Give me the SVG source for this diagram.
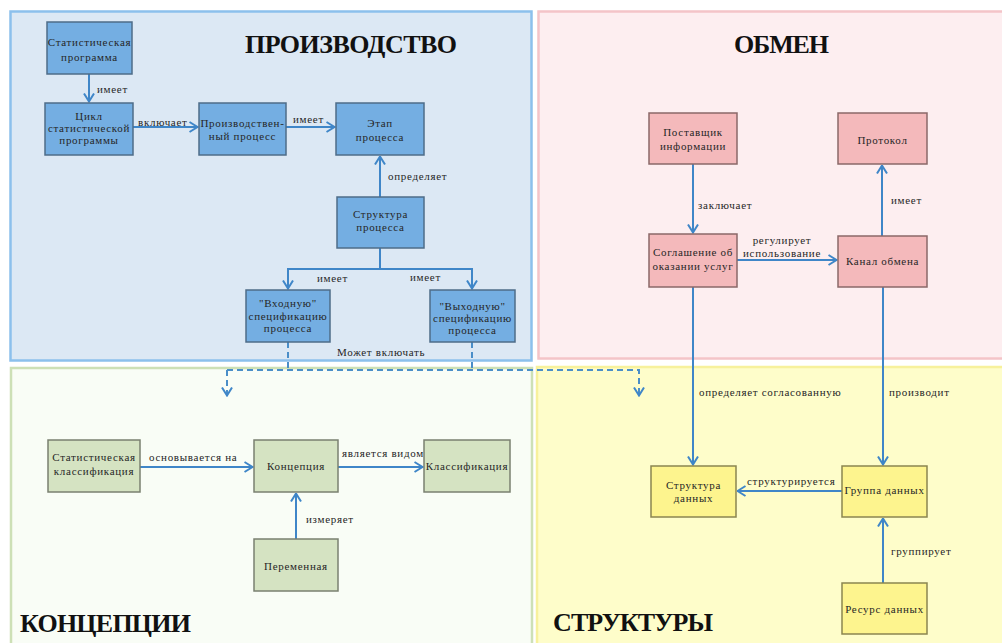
<svg xmlns="http://www.w3.org/2000/svg" width="1002" height="643" viewBox="0 0 1002 643">
<defs>
<style>
.t{font-family:"Liberation Serif","Times New Roman",serif;font-size:11px;letter-spacing:0.7px;fill:#262626;text-anchor:middle}
.l{font-family:"Liberation Serif","Times New Roman",serif;font-size:11px;letter-spacing:0.7px;fill:#262626}
.h{font-family:"Liberation Serif","Times New Roman",serif;font-size:26px;font-weight:bold;fill:#111}
.nb{fill:#74aee2;stroke:#4e6c88;stroke-width:1.5}
.np{fill:#f4b9bb;stroke:#8a6868;stroke-width:1.5}
.ng{fill:#d5e3c2;stroke:#7a8070;stroke-width:1.5}
.ny{fill:#fdf48e;stroke:#8a8550;stroke-width:1.5}
.c{fill:none;stroke:#3f86c8;stroke-width:2}
.d{fill:none;stroke:#4a8ec8;stroke-width:2;stroke-dasharray:6 4}
</style>
<marker id="a" viewBox="0 0 10 12" refX="9.5" refY="6" markerWidth="10" markerHeight="12" markerUnits="userSpaceOnUse" orient="auto">
<path d="M1,1 L9,6 L1,11" fill="none" stroke="#3f86c8" stroke-width="2"/>
</marker>
</defs>
<rect width="1002" height="643" fill="#ffffff"/>
<g id="panels">
<rect x="10.5" y="11.5" width="521" height="349" fill="#dce8f4" stroke="#8cc0ec" stroke-width="2.5"/>
<rect x="538.5" y="11.5" width="475" height="347" fill="#fdeef0" stroke="#f4c4c8" stroke-width="2.5"/>
<rect x="11" y="368" width="521" height="290" fill="#f9fdf6" stroke="#cde0b6" stroke-width="2.5"/>
<rect x="537" y="367" width="480" height="290" fill="#fefdca" stroke="#f7f19c" stroke-width="2.5"/>
<text class="h" x="245" y="53" textLength="212">ПРОИЗВОДСТВО</text>
<text class="h" x="734" y="53" textLength="95">ОБМЕН</text>
<text class="h" x="20" y="632" textLength="171">КОНЦЕПЦИИ</text>
<text class="h" x="553" y="631" textLength="160">СТРУКТУРЫ</text>
</g>
<g id="connectors">
<path class="c" d="M89 74 V102" marker-end="url(#a)"/>
<path class="c" d="M133 127 H198" marker-end="url(#a)"/>
<path class="c" d="M286 127 H335" marker-end="url(#a)"/>
<path class="c" d="M380 197 V156" marker-end="url(#a)"/>
<path class="c" d="M380 248 V269 H288 V289" marker-end="url(#a)"/>
<path class="c" d="M380 269 H472 V289" marker-end="url(#a)"/>
<path class="d" d="M288 342 V370"/>
<path class="d" d="M472 342 V370"/>
<path class="d" d="M227 370 H639 V396" marker-end="url(#a)"/>
<path class="d" d="M227 370 V396" marker-end="url(#a)"/>
<path class="c" d="M140 467 H253" marker-end="url(#a)"/>
<path class="c" d="M338 467 H423" marker-end="url(#a)"/>
<path class="c" d="M296 539 V493" marker-end="url(#a)"/>
<path class="c" d="M693 164 V233" marker-end="url(#a)"/>
<path class="c" d="M737 260 H837" marker-end="url(#a)"/>
<path class="c" d="M882 236 V165" marker-end="url(#a)"/>
<path class="c" d="M693 287 V465" marker-end="url(#a)"/>
<path class="c" d="M883 287 V465" marker-end="url(#a)"/>
<path class="c" d="M842 491 H737" marker-end="url(#a)"/>
<path class="c" d="M883 583 V518" marker-end="url(#a)"/>
<text class="l" x="97" y="93">имеет</text>
<text class="l" x="138" y="126">включает</text>
<text class="l" x="293" y="123">имеет</text>
<text class="l" x="388" y="180">определяет</text>
<text class="l" x="317" y="282">имеет</text>
<text class="l" x="410" y="281">имеет</text>
<text class="l" x="337" y="356">Может включать</text>
<text class="l" x="149" y="461">основывается на</text>
<text class="l" x="342" y="457">является видом</text>
<text class="l" x="306" y="523">измеряет</text>
<text class="l" x="698" y="209">заключает</text>
<text class="l" x="891" y="204">имеет</text>
<text class="t" x="782" y="244">регулирует</text>
<text class="t" x="782" y="257">использование</text>
<text class="l" x="699" y="396">определяет согласованную</text>
<text class="l" x="889" y="396">производит</text>
<text class="l" x="747" y="485">структурируется</text>
<text class="l" x="891" y="555">группирует</text>
</g>
<g id="n1"><rect class="nb" x="47" y="22" width="85" height="52"/><text class="t" x="89.5" y="46">Статистическая</text><text class="t" x="89.5" y="61">программа</text></g>
<g id="n2"><rect class="nb" x="45" y="103" width="88" height="52"/><text class="t" x="89" y="120">Цикл</text><text class="t" x="89" y="132">статистической</text><text class="t" x="89" y="144">программы</text></g>
<g id="n3"><rect class="nb" x="199" y="103" width="87" height="52"/><text class="t" x="242.5" y="127">Производствен-</text><text class="t" x="242.5" y="140">ный процесс</text></g>
<g id="n4"><rect class="nb" x="336" y="103" width="88" height="52"/><text class="t" x="380" y="127">Этап</text><text class="t" x="380" y="141">процесса</text></g>
<g id="n5"><rect class="nb" x="337" y="197" width="87" height="51"/><text class="t" x="380.5" y="218">Структура</text><text class="t" x="380.5" y="231">процесса</text></g>
<g id="n6"><rect class="nb" x="246" y="290" width="84" height="52"/><text class="t" x="288" y="307">"Входную"</text><text class="t" x="288" y="320">спецификацию</text><text class="t" x="288" y="332">процесса</text></g>
<g id="n7"><rect class="nb" x="430" y="290" width="85" height="52"/><text class="t" x="472.5" y="310">"Выходную"</text><text class="t" x="472.5" y="322">спецификацию</text><text class="t" x="472.5" y="334">процесса</text></g>
<g id="n8"><rect class="ng" x="48" y="440" width="92" height="52"/><text class="t" x="94" y="461">Статистическая</text><text class="t" x="94" y="475">классификация</text></g>
<g id="n9"><rect class="ng" x="254" y="440" width="84" height="52"/><text class="t" x="296" y="470">Концепция</text></g>
<g id="n10"><rect class="ng" x="424" y="440" width="86" height="52"/><text class="t" x="467" y="470">Классификация</text></g>
<g id="n11"><rect class="ng" x="254" y="539" width="84" height="52"/><text class="t" x="296" y="570">Переменная</text></g>
<g id="n12"><rect class="np" x="649" y="113" width="88" height="51"/><text class="t" x="693" y="136">Поставщик</text><text class="t" x="693" y="150">информации</text></g>
<g id="n13"><rect class="np" x="838" y="113" width="89" height="51"/><text class="t" x="882.5" y="144">Протокол</text></g>
<g id="n14"><rect class="np" x="649" y="234" width="88" height="53"/><text class="t" x="693" y="256">Соглашение об</text><text class="t" x="693" y="270">оказании услуг</text></g>
<g id="n15"><rect class="np" x="838" y="236" width="89" height="51"/><text class="t" x="882.5" y="265">Канал обмена</text></g>
<g id="n16"><rect class="ny" x="651" y="466" width="85" height="51"/><text class="t" x="693.5" y="489">Структура</text><text class="t" x="693.5" y="502">данных</text></g>
<g id="n17"><rect class="ny" x="842" y="466" width="85" height="51"/><text class="t" x="884.5" y="494">Группа данных</text></g>
<g id="n18"><rect class="ny" x="842" y="583" width="85" height="51"/><text class="t" x="884.5" y="613">Ресурс данных</text></g>
</svg>
